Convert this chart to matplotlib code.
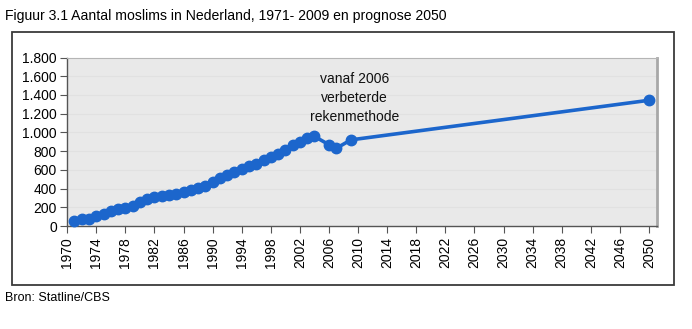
import matplotlib.pyplot as plt
import matplotlib.patches as patches
from matplotlib.ticker import FuncFormatter, FixedLocator, MultipleLocator

plt.rcParams['font.family'] = ['Liberation Sans', 'DejaVu Sans']

# Aantal moslims (x 1.000)
jaren = [1971, 1972, 1973, 1974, 1975, 1976, 1977, 1978, 1979, 1980,
         1981, 1982, 1983, 1984, 1985, 1986, 1987, 1988, 1989, 1990,
         1991, 1992, 1993, 1994, 1995, 1996, 1997, 1998, 1999, 2000,
         2001, 2002, 2003, 2004, 2006, 2007, 2009, 2050]
aantal = [57, 80, 80, 105, 127, 162, 177, 187, 214, 252,
          289, 306, 320, 335, 346, 361, 386, 404, 430, 473,
          511, 546, 582, 614, 636, 664, 700, 736, 771, 814,
          861, 895, 938, 957, 868, 830, 920, 1343]
tick_jaren = list(range(1970, 2051, 4))

titel = "Figuur 3.1 Aantal moslims in Nederland, 1971- 2009 en prognose 2050"
notitie = "vanaf 2006\nverbeterde\nrekenmethode"
bron = "Bron: Statline/CBS"

W, H = 692, 329
fig = plt.figure(figsize=(W / 100, H / 100), dpi=100)

# kader om de grafiek
kader = patches.Rectangle((12 / W, 1 - 285 / H), (674 - 12) / W, (285 - 32) / H,
                          transform=fig.transFigure, fill=False,
                          edgecolor='#3a3a3a', linewidth=1.3)
fig.patches.append(kader)

ax = fig.add_axes([66.5 / W, 1 - 226 / H, (657 - 66.5) / W, (226 - 57.5) / H])
ax.set_facecolor('#e9e9e9')

for y in range(200, 1800, 200):
    ax.axhline(y, color='#e1e1e1', linewidth=0.8, zorder=0)

ax.plot(jaren, aantal, color='#1c66cc', linewidth=2.6, marker='o',
        markersize=7.5, zorder=3, clip_on=False)

ax.set_xlim(1969.9, 2051.1)
ax.set_ylim(0, 1800)
ax.xaxis.set_major_locator(FixedLocator(tick_jaren))
ax.yaxis.set_major_locator(MultipleLocator(200))
ax.yaxis.set_major_formatter(FuncFormatter(lambda v, p: f"{int(v):,}".replace(",", ".")))

ax.tick_params(axis='x', direction='out', length=5, width=0.8, color='#555555',
               labelsize=10, rotation=90, pad=3)
ax.tick_params(axis='y', direction='out', length=5, width=0.8, color='#555555',
               labelsize=10, pad=2)

for side in ['left', 'bottom']:
    ax.spines[side].set_color('#555555')
    ax.spines[side].set_linewidth(1.0)
ax.spines['top'].set_color('#b5b5b5')
ax.spines['top'].set_linewidth(0.8)
ax.spines['right'].set_color('#a8a8a8')
ax.spines['right'].set_linewidth(2.0)

ax.text(2009.5, 1640, notitie, ha='center', va='top', fontsize=10,
        linespacing=1.45, color='#111111')

fig.text(5 / W, 1 - 16 / H, titel, ha='left', va='center', fontsize=10.1)
fig.text(5 / W, 1 - 298 / H, bron, ha='left', va='center', fontsize=9)

fig.savefig('out.png', dpi=100)
